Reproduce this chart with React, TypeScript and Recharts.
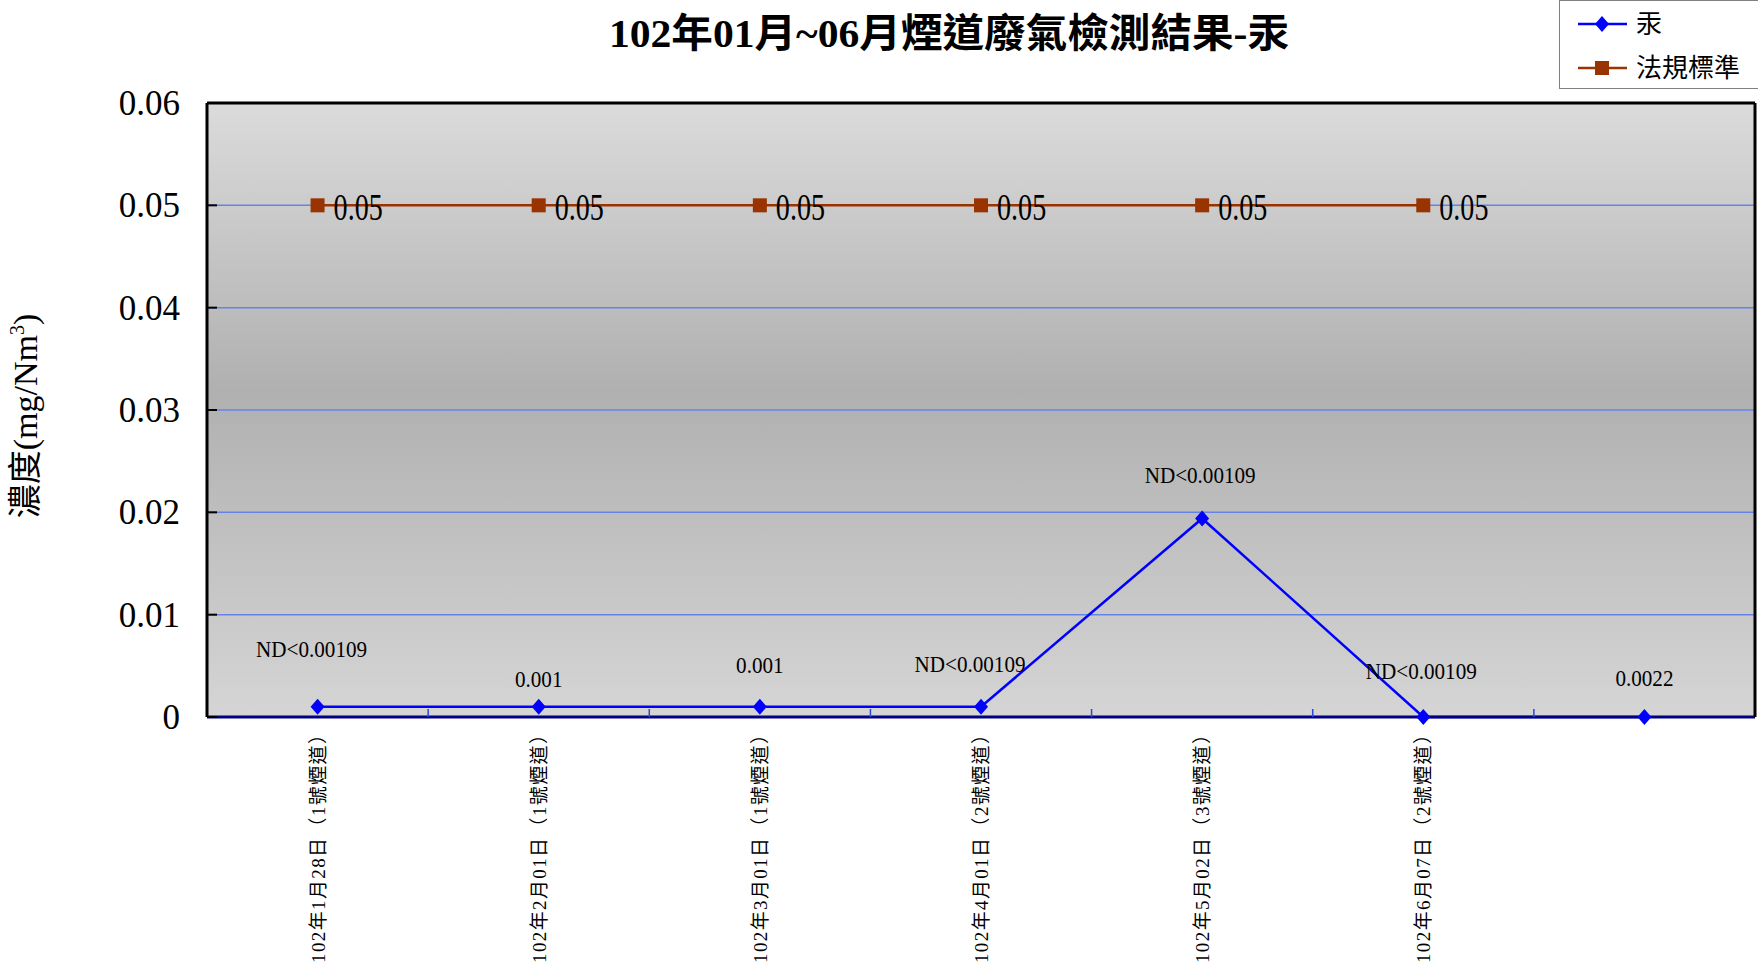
import React from "react";
import {
  LineChart,
  Line,
  XAxis,
  YAxis,
  CartesianGrid,
  ReferenceLine,
  Legend,
} from "recharts";

// sampling dates (last slot has no label on the sheet)
const categories = [
  "102年1月28日（1號煙道）",
  "102年2月01日（1號煙道）",
  "102年3月01日（1號煙道）",
  "102年4月01日（2號煙道）",
  "102年5月02日（3號煙道）",
  "102年6月07日（2號煙道）",
  "",
];
const mercury = [0.001, 0.001, 0.001, 0.001, 0.0194, 0, 0];
const standard = [0.05, 0.05, 0.05, 0.05, 0.05, 0.05, null];
const mercuryLabels = [
  "ND<0.00109",
  "0.001",
  "0.001",
  "ND<0.00109",
  "ND<0.00109",
  "ND<0.00109",
  "0.0022",
];
const yTicks = [0, 0.01, 0.02, 0.03, 0.04, 0.05, 0.06];

// labels were dragged by hand in the original sheet
const labelLift = [58, 28, 42, 43, 43, 46, 39];
const labelShift = [-6, 0, 0, -11, -2, -2, 0];

const W = 1758;
const H = 969;
const PLOT_LEFT = 207;
const PLOT_RIGHT = 1755;
const PLOT_TOP = 103;
const PLOT_BOTTOM = 717;
const BAND = (PLOT_RIGHT - PLOT_LEFT) / categories.length;
const SERIF = '"Liberation Serif", "Noto Sans CJK TC", serif';

const data = categories.map((name, i) => ({
  name,
  mercury: mercury[i],
  standard: standard[i],
}));

const Diamond = (props: any) => {
  const { cx, cy, index } = props;
  if (cx == null || cy == null) return <g key={index} />;
  return (
    <polygon
      key={index}
      points={`${cx},${cy - 8} ${cx + 7},${cy} ${cx},${cy + 8} ${cx - 7},${cy}`}
      fill="#0000ff"
    />
  );
};

const Square = (props: any) => {
  const { cx, cy, index } = props;
  if (cx == null || cy == null) return <g key={index} />;
  return <rect key={index} x={cx - 7} y={cy - 7} width={14} height={14} fill="#993300" />;
};

const pos = (props: any) => ({
  x: props.viewBox?.x ?? props.x,
  y: props.viewBox?.y ?? props.y,
});

const renderMercuryLabel = (props: any) => {
  const { x, y } = pos(props);
  const i = props.index;
  if (x == null || y == null || i == null) return null;
  return (
    <text
      transform={`translate(${x + labelShift[i]},${y - labelLift[i] + 8}) scale(0.88,1)`}
      textAnchor="middle"
      fontSize={24}
      fontFamily={SERIF}
      fill="#000"
    >
      {mercuryLabels[i]}
    </text>
  );
};

const renderStandardLabel = (props: any) => {
  const { x, y } = pos(props);
  if (x == null || y == null || props.value == null) return null;
  return (
    <text
      transform={`translate(${x + 16},${y + 15}) scale(0.76,1)`}
      fontSize={37}
      fontFamily={SERIF}
      fill="#000"
    >
      {props.value}
    </text>
  );
};

const YTick = (props: any) => {
  const { y, payload } = props;
  return (
    <g>
      <line x1={PLOT_LEFT} x2={PLOT_LEFT + 10} y1={y} y2={y} stroke="#000" strokeWidth={2} />
      <text x={180} y={y + 12} textAnchor="end" fontSize={35} fontFamily={SERIF} fill="#000">
        {payload.value}
      </text>
    </g>
  );
};

const XTick = (props: any) => {
  const { x, payload } = props;
  const index = props.index ?? payload.index;
  const edge = x + BAND / 2;
  const bx = x + 7;
  return (
    <g>
      {index < categories.length - 1 && (
        <line x1={edge} x2={edge} y1={PLOT_BOTTOM} y2={PLOT_BOTTOM - 8} stroke="#2a45e0" strokeWidth={1.5} />
      )}
      {payload.value ? (
        <text
          x={bx}
          y={963}
          transform={`rotate(-90, ${bx}, 963)`}
          textLength={238}
          lengthAdjust="spacing"
          fontSize={19}
          fontFamily={SERIF}
          fill="#000"
        >
          {payload.value}
        </text>
      ) : null}
    </g>
  );
};

const renderYLabel = () => (
  <text
    x={37}
    y={416}
    transform="rotate(-90, 37, 416)"
    textAnchor="middle"
    fontSize={34}
    fontFamily={SERIF}
    fill="#000"
  >
    濃度(mg/Nm
    <tspan dy={-13} fontSize={20}>3</tspan>
    <tspan dy={13}>)</tspan>
  </text>
);

const renderLegend = () => (
  <svg width={199} height={89} style={{ display: "block" }}>
    <rect x={0.5} y={0.5} width={210} height={88} fill="#fff" stroke="#808080" />
    <line x1={19} x2={68} y1={24} y2={24} stroke="#0000ff" strokeWidth={2.5} />
    <polygon points="43,16 50,24 43,32 36,24" fill="#0000ff" />
    <text x={77} y={33} fontSize={26} fontFamily={SERIF} fill="#000">汞</text>
    <line x1={19} x2={68} y1={68} y2={68} stroke="#993300" strokeWidth={2.5} />
    <rect x={36} y={61} width={14} height={14} fill="#993300" />
    <text x={77} y={77} fontSize={26} fontFamily={SERIF} fill="#000">法規標準</text>
  </svg>
);

export default function App() {
  return (
    <div style={{ position: "absolute", left: 0, top: 0, width: W, height: H, background: "#fff" }}>
      <svg width={0} height={0} style={{ position: "absolute" }}>
        <defs>
          <linearGradient id="plotBg" x1="0" y1="0" x2="0" y2="1">
            <stop offset="0%" stopColor="#dbdbdb" />
            <stop offset="47%" stopColor="#b0b0b0" />
            <stop offset="100%" stopColor="#d5d5d5" />
          </linearGradient>
        </defs>
      </svg>
      <svg width={W} height={70} style={{ position: "absolute", left: 0, top: 0 }}>
        <text
          x={609}
          y={47}
          textLength={680}
          lengthAdjust="spacingAndGlyphs"
          fontSize={40}
          fontWeight="bold"
          fontFamily={SERIF}
          fill="#000"
        >
          102年01月~06月煙道廢氣檢測結果-汞
        </text>
      </svg>
      <LineChart
        width={W}
        height={H}
        data={data}
        margin={{ top: PLOT_TOP, right: 0, bottom: 0, left: 0 }}
      >
        <CartesianGrid
          vertical={false}
          stroke="#6383ea"
          strokeWidth={1.5}
          fill="url(#plotBg)"
          fillOpacity={1}
        />
        <XAxis
          dataKey="name"
          height={H - PLOT_BOTTOM}
          interval={0}
          padding={{ left: BAND / 2, right: BAND / 2 }}
          tickLine={false}
          axisLine={{ stroke: "#000080", strokeWidth: 3 }}
          tick={XTick}
        />
        <YAxis
          width={PLOT_LEFT}
          domain={[0, 0.06]}
          ticks={yTicks}
          interval={0}
          tickLine={false}
          axisLine={{ stroke: "#000", strokeWidth: 3 }}
          tick={YTick}
          label={{ content: renderYLabel }}
        />
        <YAxis
          yAxisId="r"
          orientation="right"
          width={W - PLOT_RIGHT}
          domain={[0, 0.06]}
          tick={false}
          tickLine={false}
          axisLine={{ stroke: "#000", strokeWidth: 3 }}
        />
        <ReferenceLine y={0.06} stroke="#000" strokeWidth={3} />
        <Legend
          layout="vertical"
          align="center"
          verticalAlign="middle"
          content={renderLegend}
          wrapperStyle={{ position: "absolute", left: W - 199, top: 0, width: 199, height: 89 }}
        />
        <Line
          dataKey="standard"
          stroke="#993300"
          strokeWidth={2.5}
          dot={Square}
          activeDot={false}
          label={renderStandardLabel}
          isAnimationActive={false}
        />
        <Line
          dataKey="mercury"
          stroke="#0000ff"
          strokeWidth={2.5}
          dot={Diamond}
          activeDot={false}
          label={renderMercuryLabel}
          isAnimationActive={false}
        />
      </LineChart>
    </div>
  );
}
